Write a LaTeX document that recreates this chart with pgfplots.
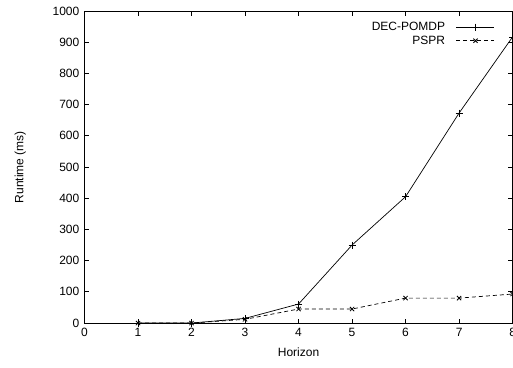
\documentclass[border=0pt]{standalone}
\usepackage{fontspec}
\setmainfont{Liberation Sans}
\usepackage{pgfplots}
\pgfplotsset{compat=1.18}
\begin{document}
\fontsize{12}{14}\selectfont
\begin{tikzpicture}
\begin{axis}[
  scale only axis,
  width=428pt, height=312pt,
  xmin=0, xmax=8, ymin=0, ymax=1000,
  xtick={0,1,...,8}, ytick={0,100,...,1000},
  tick align=inside,
  major tick length=4.5pt,
  tick style={black, line width=0.8pt},
  axis line style={line width=0.9pt},
  /pgf/number format/assume math mode=true,
  /pgf/number format/1000 sep={},
  xlabel={Horizon}, ylabel={Runtime (ms)},
  xlabel style={at={(axis description cs:0.5,-0.093)}, anchor=center},
  ylabel style={at={(axis description cs:-0.15,0.5)}, anchor=center, rotate=0},
  xticklabel style={yshift=-1pt},
  yticklabel style={xshift=-1pt},
  legend style={draw=none, fill=none, at={(0.959,0.972)}, anchor=north east, font=\fontsize{12}{14}\selectfont, row sep=-0.5pt, column sep=9pt, inner sep=0pt},
  legend cell align=right,
  legend plot pos=right,
  legend image code/.code={\draw[#1] (0pt,0pt) -- (38pt,0pt); \draw[#1, solid] plot coordinates {(19pt,0pt)};},
  clip=false,
]
\addplot[black, line width=0.7pt, mark=+, mark size=3.5pt, mark options={solid, line width=0.8pt}]
  coordinates {(1,0) (2,0) (3,15) (4,61) (5,250) (6,405) (7,673) (8,917)};
\addlegendentry{DEC-POMDP}
\addplot[black, line width=0.7pt, dash pattern=on 4pt off 3pt, mark=x, mark size=3pt, mark options={solid, line width=0.8pt}]
  coordinates {(1,0) (2,0) (3,12) (4,45) (5,45) (6,80) (7,80) (8,93)};
\addlegendentry{PSPR}
\end{axis}
\pgfresetboundingbox
\useasboundingbox (-84.5pt,-44pt) rectangle (428.4pt,323pt);
\end{tikzpicture}
\end{document}
